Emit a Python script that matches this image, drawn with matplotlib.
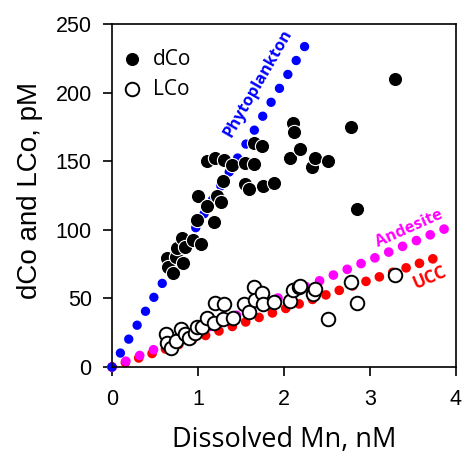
import matplotlib
matplotlib.use("Agg")
import matplotlib.pyplot as plt

plt.rcParams['font.family'] = ['Liberation Sans', 'DejaVu Sans']

# dCo (filled) : Dissolved Mn (nM), dCo (pM)
dco_mn = [0.64, 0.655, 0.71, 0.74, 0.75, 0.81, 0.83, 0.85, 0.945, 0.985, 1.00, 1.04,
          1.10, 1.11, 1.19, 1.20, 1.22, 1.27, 1.295, 1.30, 1.40, 1.55, 1.55, 1.59,
          1.65, 1.655, 1.74, 1.75, 1.88, 2.07, 2.10, 2.12, 2.19, 2.33, 2.36, 2.515,
          2.775, 2.845, 3.29]
dco_pm = [79.7, 73, 68.3, 80.4, 86.5, 93.8, 75.6, 87.7, 92.6, 107, 125, 90,
          150, 117, 106, 152.6, 125, 120.5, 135.6, 151, 147, 149, 133.4, 130,
          148, 163, 161, 132, 134, 152, 178, 171, 159, 146, 152, 150,
          175, 115, 210]

# LCo (open)
lco_mn = [0.628, 0.636, 0.69, 0.744, 0.80, 0.85, 0.90, 0.96, 0.985, 1.05, 1.11, 1.19,
          1.20, 1.29, 1.30, 1.41, 1.54, 1.59, 1.65, 1.66, 1.74, 1.75, 1.88, 2.07,
          2.11, 2.17, 2.19, 2.34, 2.36, 2.515, 2.775, 2.845, 3.29]
lco_pm = [23.8, 17.7, 14, 19, 28, 23.8, 21, 24.5, 29, 29, 36, 32,
          47, 35, 46, 36, 46, 40, 58.5, 49, 53.7, 45.7, 47.6, 48,
          56, 58.5, 59, 53, 56.8, 35, 62, 47, 67]

# Reference ratio lines (end points)
phyto_x = [0, 2.33]
phyto_y = [0, 243]
andesite_x = [0, 3.88]
andesite_y = [0, 101]
ucc_x = [0, 3.88]
ucc_y = [0, 82]

fig = plt.figure(figsize=(4.62, 4.53), dpi=100)
ax = fig.add_axes([112/462, 1-367/453, (456-112)/462, (367-24)/453])

ax.plot(ucc_x, ucc_y, color='#ff0000', lw=7, linestyle=(0, (0.001, 1.45)),
        dash_capstyle='round', zorder=2, clip_on=False)
ax.plot(andesite_x, andesite_y, color='#ff00ff', lw=7, linestyle=(0, (0.001, 1.54)),
        dash_capstyle='round', zorder=2.1, clip_on=False)
ax.plot(phyto_x, phyto_y, color='#0000ff', lw=6.8, linestyle=(0, (0.001, 1.72)),
        dash_capstyle='round', zorder=2.2, clip_on=False)

ax.scatter(dco_mn, dco_pm, s=105, c='black', edgecolors='white', linewidths=0.8,
           zorder=3, label='dCo')
ax.scatter(lco_mn, lco_pm, s=95, c='white', edgecolors='black', linewidths=1.4,
           zorder=3, label='LCo')

lab_font = ['Open Sans', 'DejaVu Sans']
ax.text(1.70, 207, 'Phytoplankton', color='#0000ff', fontweight='bold', fontsize=11.8,
        rotation=60, ha='center', va='center', rotation_mode='anchor', family=lab_font)
ax.text(3.46, 101, 'Andesite', color='#ff00ff', fontweight='bold', fontsize=11.8,
        rotation=24, ha='center', va='center', rotation_mode='anchor', family=lab_font)
ax.text(3.69, 65.5, 'UCC', color='#ff0000', fontweight='bold', fontsize=12.5,
        rotation=23, ha='center', va='center', rotation_mode='anchor', family=lab_font)

ax.set_xlim(0, 4)
ax.set_ylim(0, 250)
ax.set_xticks([0, 1, 2, 3, 4])
ax.set_yticks([0, 50, 100, 150, 200, 250])
ax.tick_params(direction='out', length=6.5, width=1.2, labelsize=15.5)
ax.tick_params(axis='y', pad=8.1)
ax.tick_params(axis='x', pad=9.4)
for sp in ax.spines.values():
    sp.set_linewidth(1.2)

ax.set_xlabel('Dissolved Mn, nM', fontsize=19.5, family=lab_font)
ax.set_ylabel('dCo and LCo, pM', fontsize=20)
ax.xaxis.set_label_coords(0.5, -0.172)
ax.yaxis.set_label_coords(-0.2006, 0.515)

leg = ax.legend(loc='upper left', bbox_to_anchor=(0, 0.958), frameon=False,
                handlelength=0.95, handletextpad=0.5, borderaxespad=0.1,
                borderpad=0.4, labelspacing=0.42, markerscale=1.0,
                prop={'family': lab_font, 'size': 15})

fig.savefig('out.png', dpi=100)
